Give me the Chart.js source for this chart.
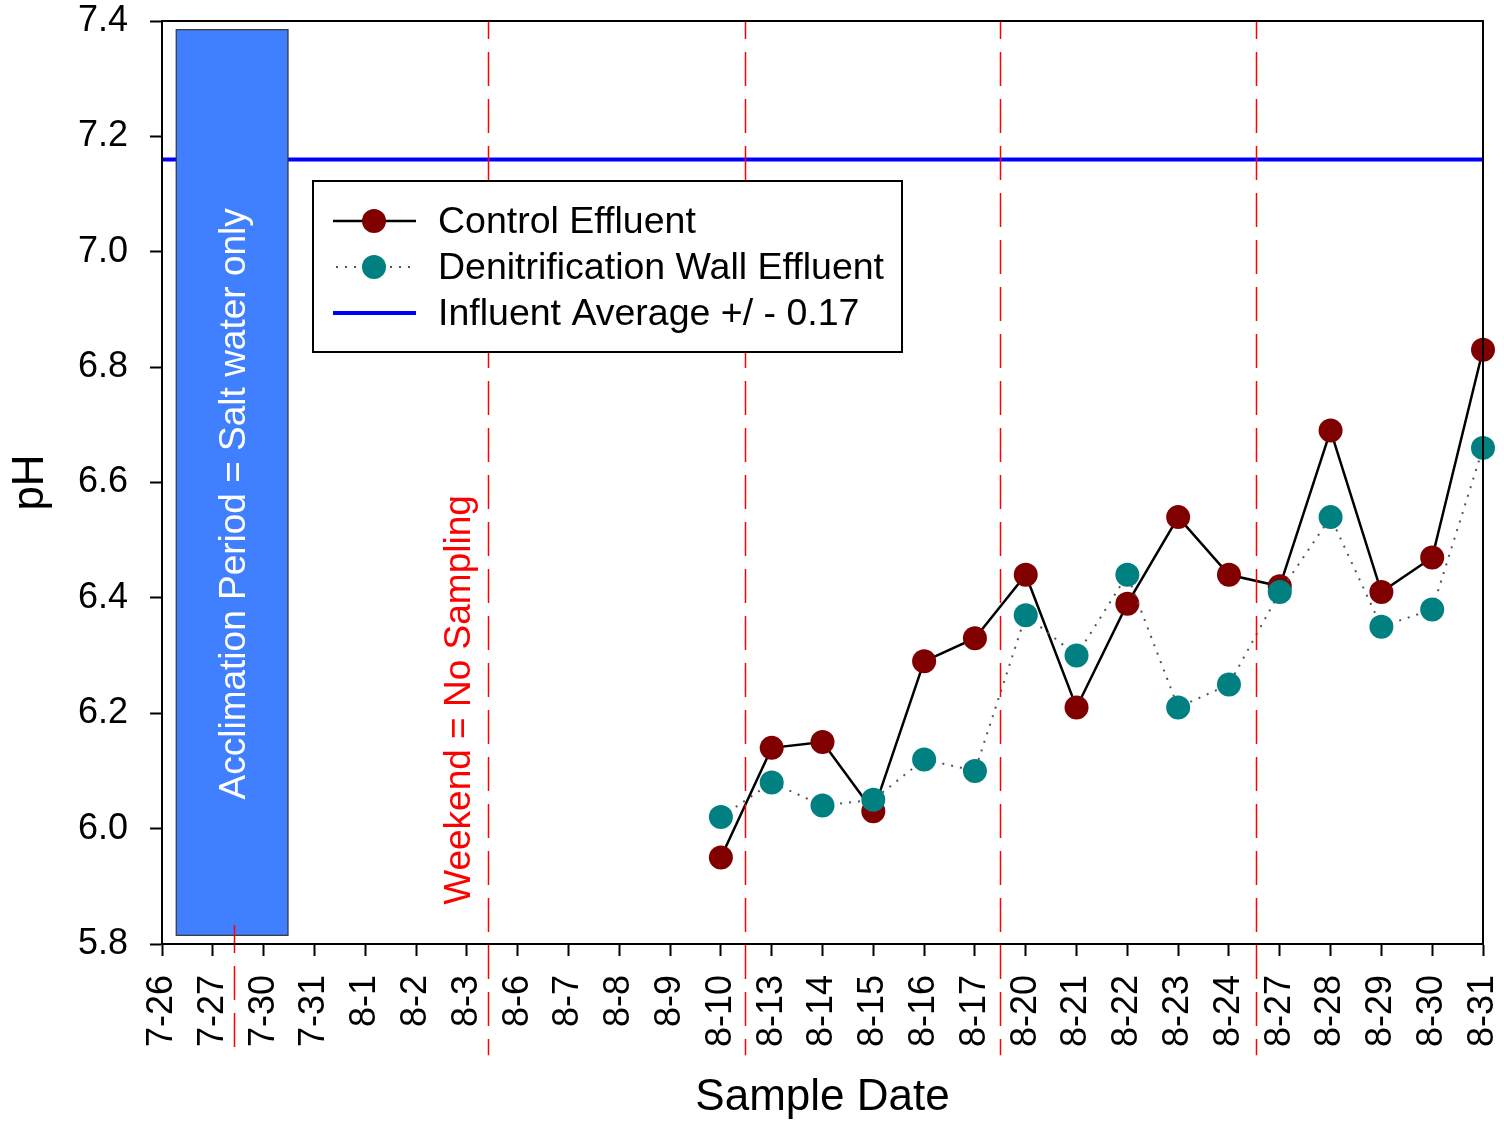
<!DOCTYPE html>
<html>
<head>
<meta charset="utf-8">
<script src="https://cdn.jsdelivr.net/npm/chart.js@4"></script>
<style>
html,body{margin:0;padding:0;background:#fff;}
canvas{display:block;}
</style>
</head>
<body>
<canvas id="c" width="1504" height="1124"></canvas>
<script>
// ---- data ----
const dateLabels = ['7-26','7-27','7-30','7-31','8-1','8-2','8-3','8-6','8-7','8-8','8-9','8-10',
  '8-13','8-14','8-15','8-16','8-17','8-20','8-21','8-22','8-23','8-24','8-27','8-28','8-29','8-30','8-31'];
const sampledDates = ['8-10','8-13','8-14','8-15','8-16','8-17','8-20','8-21','8-22','8-23','8-24',
  '8-27','8-28','8-29','8-30','8-31'];
const controlEffluent = [5.95,6.14,6.15,6.03,6.29,6.33,6.44,6.21,6.39,6.54,6.44,6.42,6.69,6.41,6.47,6.83];
const wallEffluent    = [6.02,6.08,6.04,6.05,6.12,6.10,6.37,6.30,6.44,6.21,6.25,6.41,6.54,6.35,6.38,6.66];
const influentAverage = 7.16;
const influentSpan = ['7-26','8-31'];
const yTickValues = [5.8,6.0,6.2,6.4,6.6,6.8,7.0,7.2,7.4];

// annotation anchors (in category-index / pH units)
const acclimationX = [0.28, 2.48];
const acclimationY = [5.815, 7.385];
const acclimationTextAt = [1.43, 6.563];
const weekendX = [6.41, 11.48, 16.49, 21.54];
const weekendLineBottom = 5.607;
const shortWeekendX = 1.42;
const shortWeekendY = [5.833, 5.62];
const weekendTextAt = [5.87, 6.223];

const FONT = "'Liberation Sans', Arial, 'DejaVu Sans', sans-serif";

const annotations = {
  id: 'annotations',
  afterDatasetsDraw(chart) {
    const {ctx, chartArea: a, scales: {x, y}} = chart;
    ctx.save();
    // acclimation box
    const bx0 = x.getPixelForValue(acclimationX[0]), bx1 = x.getPixelForValue(acclimationX[1]);
    const by0 = y.getPixelForValue(acclimationY[1]), by1 = y.getPixelForValue(acclimationY[0]);
    ctx.fillStyle = '#4080FF';
    ctx.fillRect(bx0, by0, bx1 - bx0, by1 - by0);
    ctx.strokeStyle = '#333';
    ctx.lineWidth = 1.2;
    ctx.strokeRect(bx0, by0, bx1 - bx0, by1 - by0);
    // acclimation text
    ctx.save();
    ctx.translate(x.getPixelForValue(acclimationTextAt[0]), y.getPixelForValue(acclimationTextAt[1]));
    ctx.rotate(-Math.PI / 2);
    ctx.fillStyle = '#fff';
    ctx.font = '37px ' + FONT;
    ctx.textAlign = 'center';
    ctx.textBaseline = 'middle';
    ctx.fillText('Acclimation Period = Salt water only', 0, 0);
    ctx.restore();
    // weekend dashed lines
    ctx.strokeStyle = '#FF0000';
    ctx.lineWidth = 1.5;
    ctx.setLineDash([34, 13]);
    ctx.lineDashOffset = 16;
    weekendX.forEach(v => {
      const px = Math.round(x.getPixelForValue(v)) + 0.5;
      ctx.beginPath();
      ctx.moveTo(px, a.top);
      ctx.lineTo(px, y.getPixelForValue(weekendLineBottom));
      ctx.stroke();
    });
    ctx.lineDashOffset = 6;
    {
      const px = Math.round(x.getPixelForValue(shortWeekendX)) + 0.5;
      ctx.beginPath();
      ctx.moveTo(px, y.getPixelForValue(shortWeekendY[0]));
      ctx.lineTo(px, y.getPixelForValue(shortWeekendY[1]));
      ctx.stroke();
    }
    ctx.setLineDash([]);
    // weekend text
    ctx.save();
    ctx.translate(x.getPixelForValue(weekendTextAt[0]), y.getPixelForValue(weekendTextAt[1]));
    ctx.rotate(-Math.PI / 2);
    ctx.fillStyle = '#FF0000';
    ctx.font = '37px ' + FONT;
    ctx.textAlign = 'center';
    ctx.textBaseline = 'middle';
    ctx.fillText('Weekend = No Sampling', 0, 0);
    ctx.restore();
    // frame
    ctx.strokeStyle = '#000';
    ctx.lineWidth = 2;
    ctx.strokeRect(a.left, a.top, a.right - a.left, a.bottom - a.top);
    // legend
    const lx = a.left + 151, ly = a.top + 160, lw = 589, lh = 171;
    ctx.fillStyle = '#fff';
    ctx.fillRect(lx, ly, lw, lh);
    ctx.strokeStyle = '#000';
    ctx.lineWidth = 2;
    ctx.strokeRect(lx, ly, lw, lh);
    const rows = [ly + 40, ly + 86, ly + 132];
    const ds = chart.data.datasets;
    ds.forEach((d, i) => {
      const ry = rows[i];
      ctx.strokeStyle = d.borderColor;
      ctx.lineWidth = d.borderWidth;
      ctx.setLineDash(d.borderDash || []);
      ctx.beginPath();
      ctx.moveTo(lx + 20, ry);
      ctx.lineTo(lx + 103, ry);
      ctx.stroke();
      ctx.setLineDash([]);
      if (d.pointRadius > 0) {
        ctx.fillStyle = d.pointBackgroundColor;
        ctx.beginPath();
        ctx.arc(lx + 61, ry, d.pointRadius, 0, Math.PI * 2);
        ctx.fill();
      }
      ctx.fillStyle = '#000';
      ctx.font = '37.5px ' + FONT;
      ctx.textAlign = 'left';
      ctx.textBaseline = 'middle';
      ctx.fillText(d.label, lx + 125, ry + 2);
    });
    ctx.restore();
  }
};

new Chart(document.getElementById('c'), {
  type: 'line',
  data: {
    labels: dateLabels,
    datasets: [
      {
        label: 'Control Effluent',
        data: sampledDates.map((d, i) => ({x: d, y: controlEffluent[i]})),
        borderColor: '#000000', borderWidth: 2.5,
        pointRadius: 12, pointBackgroundColor: '#800000', pointBorderColor: '#800000', pointBorderWidth: 0,
        tension: 0, clip: false, order: 1
      },
      {
        label: 'Denitrification Wall Effluent',
        data: sampledDates.map((d, i) => ({x: d, y: wallEffluent[i]})),
        borderColor: '#555555', borderWidth: 2, borderDash: [2, 7],
        pointRadius: 12, pointBackgroundColor: '#008080', pointBorderColor: '#008080', pointBorderWidth: 0,
        tension: 0, clip: false, order: 0
      },
      {
        label: 'Influent Average +/ - 0.17',
        data: influentSpan.map(d => ({x: d, y: influentAverage})),
        borderColor: '#0000FF', borderWidth: 4,
        pointRadius: 0, pointBackgroundColor: '#0000FF',
        tension: 0, order: 2
      }
    ]
  },
  options: {
    responsive: false,
    animation: false,
    devicePixelRatio: 1,
    layout: {padding: {top: 21, right: 21, left: 0, bottom: 0}},
    plugins: {legend: {display: false}, tooltip: {enabled: false}},
    scales: {
      x: {
        type: 'category', offset: false,
        grid: {display: true, drawOnChartArea: false, drawTicks: true, tickLength: 12, tickWidth: 2, tickColor: '#000', offset: false},
        border: {display: true, color: '#000', width: 2},
        ticks: {autoSkip: false, maxRotation: 90, minRotation: 90, padding: 19, color: '#000', font: {family: FONT, size: 36}},
        title: {display: true, text: 'Sample Date', color: '#000', font: {family: FONT, size: 44}, padding: {top: 0, bottom: 0}},
        afterFit: s => { s.height = 180; s.paddingLeft = 0; s.paddingRight = 0; }
      },
      y: {
        min: yTickValues[0], max: yTickValues[yTickValues.length - 1],
        afterBuildTicks: s => { s.ticks = yTickValues.map(v => ({value: v})); },
        grid: {display: true, drawOnChartArea: false, drawTicks: true, tickLength: 12, tickWidth: 2, tickColor: '#000'},
        border: {display: true, color: '#000', width: 2},
        ticks: {padding: 22, color: '#000', font: {family: FONT, size: 36}, callback: v => Number(v).toFixed(1)},
        title: {display: true, text: 'pH', color: '#000', font: {family: FONT, size: 44}, padding: {top: 4, bottom: 0}},
        afterFit: s => { s.width = 162; s.paddingTop = 0; s.paddingBottom = 0; }
      }
    }
  },
  plugins: [annotations]
});
</script>
</body>
</html>
